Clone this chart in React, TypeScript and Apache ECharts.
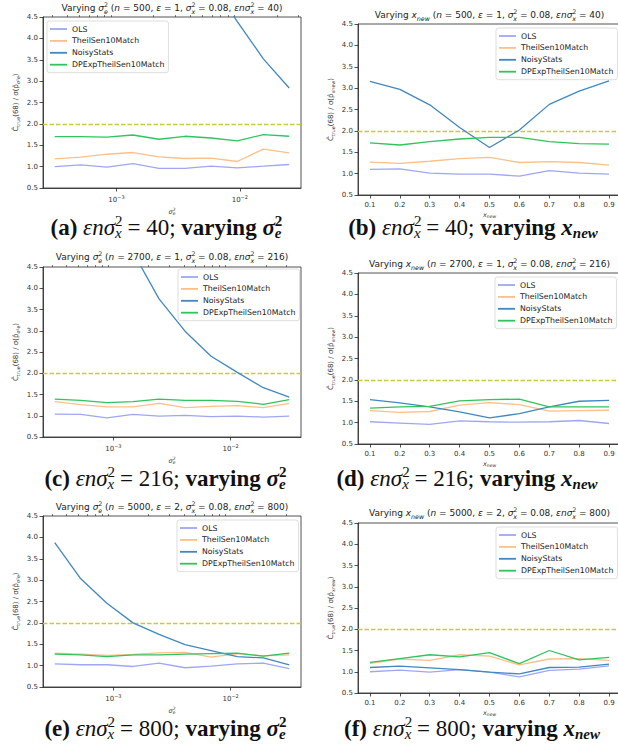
import React, { useEffect, useRef } from "react";
import * as echarts from "echarts";

// ---------- data ----------
const NAMES = ["OLS", "TheilSen10Match", "NoisyStats", "DPExpTheilSen10Match"];
const COLORS = ["#a0a6f6", "#ffbf86", "#3f88c0", "#2fc45c"];

const sigmaA = [3.16e-4, 5.14e-4, 8.36e-4, 1.36e-3, 2.21e-3, 3.59e-3, 5.84e-3, 9.51e-3, 1.55e-2, 2.51e-2];
const sigmaCE = [3.16e-4, 5.27e-4, 8.8e-4, 1.47e-3, 2.45e-3, 4.08e-3, 6.81e-3, 1.14e-2, 1.9e-2, 3.16e-2];
const xNew = [0.1, 0.2, 0.3, 0.4, 0.5, 0.6, 0.7, 0.8, 0.9];

// (a)
const olsA = [1.0, 1.04, 0.99, 1.07, 0.96, 0.96, 1.01, 0.97, 1.01, 1.05];
const theilA = [1.18, 1.22, 1.29, 1.33, 1.23, 1.19, 1.2, 1.12, 1.41, 1.32];
const noisyA = [24.0, 17.5, 12.8, 9.6, 7.6, 6.3, 5.3, 4.4, 3.52, 2.84];
const dpA = [1.7, 1.7, 1.69, 1.74, 1.64, 1.71, 1.67, 1.6, 1.75, 1.71];
// (b)
const olsB = [1.1, 1.11, 1.01, 0.99, 0.99, 0.94, 1.07, 1.01, 0.99];
const theilB = [1.27, 1.24, 1.29, 1.35, 1.38, 1.26, 1.28, 1.26, 1.2];
const noisyB = [3.16, 2.97, 2.61, 2.08, 1.61, 2.02, 2.62, 2.93, 3.17];
const dpB = [1.72, 1.67, 1.75, 1.81, 1.85, 1.85, 1.75, 1.7, 1.69];
// (c)
const olsC = [1.04, 1.03, 0.95, 1.03, 0.99, 1.01, 0.98, 0.99, 0.97, 0.99];
const theilC = [1.33, 1.26, 1.21, 1.21, 1.29, 1.19, 1.22, 1.24, 1.19, 1.29];
const noisyC = [10.5, 8.0, 6.2, 4.85, 3.75, 2.99, 2.4, 2.02, 1.66, 1.44];
const dpC = [1.39, 1.36, 1.31, 1.33, 1.39, 1.36, 1.36, 1.34, 1.27, 1.38];
// (d)
const olsD = [1.02, 0.99, 0.96, 1.04, 1.02, 1.01, 1.02, 1.05, 0.98];
const theilD = [1.28, 1.24, 1.26, 1.41, 1.47, 1.42, 1.27, 1.28, 1.29];
const noisyD = [1.54, 1.46, 1.37, 1.25, 1.11, 1.21, 1.37, 1.5, 1.52];
const dpD = [1.34, 1.37, 1.38, 1.51, 1.54, 1.55, 1.37, 1.37, 1.37];
// (e)
const olsE = [1.04, 1.02, 1.02, 0.98, 1.06, 0.95, 0.99, 1.04, 1.06, 0.93];
const theilE = [1.29, 1.27, 1.24, 1.26, 1.3, 1.31, 1.2, 1.28, 1.23, 1.25];
const noisyE = [3.88, 3.03, 2.46, 2.0, 1.73, 1.49, 1.35, 1.21, 1.18, 1.02];
const dpE = [1.27, 1.25, 1.21, 1.25, 1.25, 1.27, 1.28, 1.29, 1.22, 1.29];
// (f)
const olsF = [1.0, 1.04, 0.99, 1.05, 0.99, 0.88, 1.03, 1.06, 1.14];
const theilF = [1.2, 1.3, 1.27, 1.4, 1.37, 1.16, 1.3, 1.31, 1.27];
const noisyF = [1.1, 1.13, 1.09, 1.05, 0.99, 0.95, 1.1, 1.11, 1.18];
const dpF = [1.22, 1.31, 1.4, 1.35, 1.45, 1.19, 1.5, 1.28, 1.34];

const REF_LEVEL = 2.0;
const LOG_MAJOR = [1e-3, 1e-2];
const LOG_MINOR = [3e-4, 4e-4, 5e-4, 6e-4, 7e-4, 8e-4, 9e-4, 2e-3, 3e-3, 4e-3, 5e-3, 6e-3, 7e-3, 8e-3, 9e-3, 2e-2, 3e-2];
const XNEW_TICKS = [0.1, 0.2, 0.3, 0.4, 0.5, 0.6, 0.7, 0.8, 0.9];

// ---------- text ----------
const sig = (s: string) => `{i|σ}{sup|2}{sub|${s}}`;
const titleSigma = (n: string, e: string, prod: string) =>
  `{t|Varying }${sig("e")}{t| (}{i|n}{t| = ${n}, }{i|ε}{t| = ${e}, }${sig("x")}{t| = 0.08, }{i|εnσ}{sup|2}{sub|x}{t| = ${prod})}`;
const titleX = (n: string, e: string, prod: string) =>
  `{t|Varying }{i|x}{sub|new}{t| (}{i|n}{t| = ${n}, }{i|ε}{t| = ${e}, }${sig("x")}{t| = 0.08, }{i|εnσ}{sup|2}{sub|x}{t| = ${prod})}`;
const capSigma = (l: string, v: string) =>
  `{b|(${l}) }{mi|εnσ}{msup|2}{msub|x}{m| = ${v}; }{b|varying }{bi|σ}{bsup|2}{bsub|e}`;
const capX = (l: string, v: string) =>
  `{b|(${l}) }{mi|εnσ}{msup|2}{msub|x}{m| = ${v}; }{b|varying }{bi|x}{bsub|new}`;

const YNAME_SIGMA = "{a|Ĉ}{s|true}{a|(68) / σ(p̂}{s|σ²e}{a|)}";
const YNAME_X = "{a|Ĉ}{s|true}{a|(68) / σ(p̂}{s|xnew}{a|)}";
const XNAME_SIGMA = "{a|σ}{sp|2}{s|e}";
const XNAME_X = "{a|x}{s|new}";

// ---------- layout ----------
const PANELS = [
  { log: true, xs: sigmaA, xmin: 2.54e-4, xmax: 0.0313, ys: [olsA, theilA, noisyA, dpA], g: [43, 17, 258, 171], lg: [47, 21], title: titleSigma("500", "1", "40"), ty: 8, cap: capSigma("a", "40"), cx: 166, cy: 227 },
  { log: false, xs: xNew, xmin: 0.06, xmax: 0.94, ys: [olsB, theilB, noisyB, dpB], g: [358, 24, 263, 171], lg: [496, 28], title: titleX("500", "1", "40"), ty: 15, cap: capX("b", "40"), cx: 473, cy: 227 },
  { log: true, xs: sigmaCE, xmin: 2.51e-4, xmax: 0.0398, ys: [olsC, theilC, noisyC, dpC], g: [43, 267, 258, 170], lg: [178, 269], title: titleSigma("2700", "1", "216"), ty: 257, cap: capSigma("c", "216"), cx: 165, cy: 478 },
  { log: false, xs: xNew, xmin: 0.06, xmax: 0.94, ys: [olsD, theilD, noisyD, dpD], g: [358, 273, 263, 171], lg: [495, 277], title: titleX("2700", "1", "216"), ty: 264, cap: capX("d", "216"), cx: 467, cy: 478 },
  { log: true, xs: sigmaCE, xmin: 2.51e-4, xmax: 0.0398, ys: [olsE, theilE, noisyE, dpE], g: [43, 516, 258, 171], lg: [177, 520], title: titleSigma("5000", "2", "800"), ty: 507, cap: capSigma("e", "800"), cx: 165, cy: 728 },
  { log: false, xs: xNew, xmin: 0.06, xmax: 0.94, ys: [olsF, theilF, noisyF, dpF], g: [358, 523, 263, 170], lg: [496, 527], title: titleX("5000", "2", "800"), ty: 513, cap: capX("f", "800"), cx: 472, cy: 728 },
];

const AX = "#262626";
const TXT = "#333";
const FONT = "DejaVu Sans";
const SERIF = "Liberation Serif";
const L = "left";
const CAP_FS = 23;
const CAP_LH = 27;
const CAP_SFS = 15;
const CAP_SLH = 12;

const TITLE_RICH = {
  t: { fontFamily: FONT, fontSize: 9, fill: "#222", lineHeight: 13, align: L },
  i: { fontFamily: FONT, fontStyle: "italic", fontSize: 9, fill: "#222", lineHeight: 13, align: L },
  sup: { fontFamily: FONT, fontSize: 6.3, fill: "#222", verticalAlign: "top", lineHeight: 7, width: 0, align: L },
  sub: { fontFamily: FONT, fontStyle: "italic", fontSize: 6.3, fill: "#222", verticalAlign: "bottom", lineHeight: 7, align: L },
};
const CAP_RICH = {
  b: { fontFamily: SERIF, fontWeight: "bold", fontSize: CAP_FS, fill: "#111", lineHeight: CAP_LH, align: L },
  m: { fontFamily: SERIF, fontSize: CAP_FS, fill: "#111", lineHeight: CAP_LH, align: L },
  mi: { fontFamily: SERIF, fontStyle: "italic", fontSize: CAP_FS, fill: "#111", lineHeight: CAP_LH, align: L },
  bi: { fontFamily: SERIF, fontStyle: "italic", fontWeight: "bold", fontSize: CAP_FS, fill: "#111", lineHeight: CAP_LH, align: L },
  msup: { fontFamily: SERIF, fontSize: CAP_SFS, fill: "#111", verticalAlign: "top", lineHeight: CAP_SLH, width: 0, align: L },
  msub: { fontFamily: SERIF, fontStyle: "italic", fontSize: CAP_SFS, fill: "#111", verticalAlign: "bottom", lineHeight: CAP_SLH, align: L },
  bsup: { fontFamily: SERIF, fontWeight: "bold", fontSize: CAP_SFS, fill: "#111", verticalAlign: "top", lineHeight: CAP_SLH, width: 0, align: L },
  bsub: { fontFamily: SERIF, fontStyle: "italic", fontWeight: "bold", fontSize: CAP_SFS, fill: "#111", verticalAlign: "bottom", lineHeight: CAP_SLH, align: L },
};
const YNAME_RICH = {
  a: { fontFamily: FONT, fontSize: 7, color: TXT, lineHeight: 10, align: L },
  s: { fontFamily: FONT, fontSize: 4.8, color: TXT, verticalAlign: "bottom", lineHeight: 5, align: L },
};
const XNAME_RICH = {
  a: { fontFamily: FONT, fontStyle: "italic", fontSize: 6.5, color: TXT, lineHeight: 9, align: L },
  sp: { fontFamily: FONT, fontSize: 4.5, color: TXT, verticalAlign: "top", lineHeight: 5, width: 0, align: L },
  s: { fontFamily: FONT, fontStyle: "italic", fontSize: 4.5, color: TXT, verticalAlign: "bottom", lineHeight: 5, align: L },
};
const LOGLBL_RICH = {
  b: { fontFamily: FONT, fontSize: 7, color: TXT, lineHeight: 10, align: L },
  s: { fontFamily: FONT, fontSize: 5, color: TXT, verticalAlign: "top", lineHeight: 6, align: L },
};

function buildOption() {
  const grid: any[] = [];
  const xAxis: any[] = [];
  const yAxis: any[] = [];
  const series: any[] = [];
  const legend: any[] = [];
  const graphic: any[] = [];

  PANELS.forEach((p, k) => {
    const [gl, gt, gw, gh] = p.g;
    grid.push({
      left: gl, top: gt, width: gw, height: gh, show: true,
      borderColor: AX, borderWidth: 0.8, backgroundColor: "transparent",
      containLabel: false, outerBoundsMode: "none",
    });
    const mainX = xAxis.length;
    const tickLine = { color: AX, width: 0.8 };
    if (p.log) {
      xAxis.push({
        type: "log", logBase: 10, gridIndex: k, min: p.xmin, max: p.xmax,
        axisLine: { show: true, lineStyle: tickLine },
        axisTick: { show: true, length: 3.5, customValues: LOG_MAJOR, lineStyle: tickLine },
        axisLabel: {
          customValues: LOG_MAJOR, margin: 6.5, fontSize: 7, color: TXT,
          formatter: (v: number) => `{b|10}{s|−${Math.round(-Math.log10(v))}}`,
          rich: LOGLBL_RICH,
        },
        splitLine: { show: false },
        name: XNAME_SIGMA, nameLocation: "middle", nameGap: 19, nameMoveOverlap: false,
        nameTextStyle: { rich: XNAME_RICH },
      });
      xAxis.push({
        type: "log", logBase: 10, gridIndex: k, min: p.xmin, max: p.xmax,
        axisLine: { show: false },
        axisTick: { show: true, length: 2, customValues: LOG_MINOR, lineStyle: { color: AX, width: 0.6 } },
        axisLabel: { show: false },
        splitLine: { show: false },
      });
    } else {
      xAxis.push({
        type: "value", gridIndex: k, min: p.xmin, max: p.xmax,
        axisLine: { show: true, lineStyle: tickLine },
        axisTick: { show: true, length: 3.5, customValues: XNEW_TICKS, lineStyle: tickLine },
        axisLabel: {
          customValues: XNEW_TICKS, margin: 6, fontSize: 7, color: TXT, fontFamily: FONT,
          formatter: (v: number) => v.toFixed(1),
        },
        splitLine: { show: false },
        name: XNAME_X, nameLocation: "middle", nameGap: 15, nameMoveOverlap: false,
        nameTextStyle: { rich: XNAME_RICH },
      });
    }
    yAxis.push({
      type: "value", gridIndex: k, min: 0.5, max: 4.5, interval: 0.5,
      axisLine: { show: true, lineStyle: tickLine },
      axisTick: { show: true, length: 3.5, lineStyle: tickLine },
      axisLabel: { margin: 5, fontSize: 7, color: TXT, fontFamily: FONT, formatter: (v: number) => v.toFixed(1) },
      splitLine: { show: false },
      name: p.log ? YNAME_SIGMA : YNAME_X, nameLocation: "middle", nameRotate: 90, nameGap: 22, nameMoveOverlap: false,
      nameTextStyle: { rich: YNAME_RICH },
    });
    p.ys.forEach((ys, s) => {
      const ser: any = {
        type: "line", name: NAMES[s], xAxisIndex: mainX, yAxisIndex: k,
        data: p.xs.map((x, i) => [x, ys[i]]),
        showSymbol: false, symbol: "none", clip: true, silent: true,
        lineStyle: { width: 1.3, color: COLORS[s] }, itemStyle: { color: COLORS[s] },
        z: 3 + s,
      };
      if (s === 0) {
        ser.markLine = {
          silent: true, symbol: "none", label: { show: false },
          lineStyle: { type: [4.5, 2], color: "#c9c93a", width: 1.3 },
          data: [{ yAxis: REF_LEVEL }],
        };
      }
      series.push(ser);
    });
    legend.push({
      orient: "vertical", left: p.lg[0], top: p.lg[1], data: NAMES, selectedMode: false,
      icon: "rect", itemWidth: 17, itemHeight: 1.8, itemGap: 3.9,
      padding: [4, 4, 4, 3], borderColor: "#d4d4d4", borderWidth: 0.8, borderRadius: 2.5,
      backgroundColor: "rgba(255,255,255,0.8)",
      textStyle: { fontFamily: FONT, fontSize: 7.8, color: "#222", lineHeight: 8 },
    });
    graphic.push({
      type: "text", x: gl + gw / 2, y: p.ty,
      style: { text: p.title, rich: TITLE_RICH, align: "center", verticalAlign: "middle", fill: "#222", font: `9px ${FONT}` },
    });
    graphic.push({
      type: "text", x: p.cx, y: p.cy,
      style: { text: p.cap, rich: CAP_RICH, align: "center", verticalAlign: "middle", fill: "#111", font: `${CAP_FS}px ${SERIF}` },
    });
  });

  return {
    animation: false,
    backgroundColor: "#fff",
    textStyle: { fontFamily: FONT },
    grid, xAxis, yAxis, series, legend, graphic,
  };
}

export default function App() {
  const ref = useRef<HTMLDivElement>(null);
  useEffect(() => {
    const chart = echarts.init(ref.current!, null, { renderer: "svg" });
    chart.setOption(buildOption() as any);
    return () => chart.dispose();
  }, []);
  return (
    <div
      ref={ref}
      style={{ position: "absolute", left: 0, top: 0, width: 618, height: 749, background: "#fff" }}
    />
  );
}
